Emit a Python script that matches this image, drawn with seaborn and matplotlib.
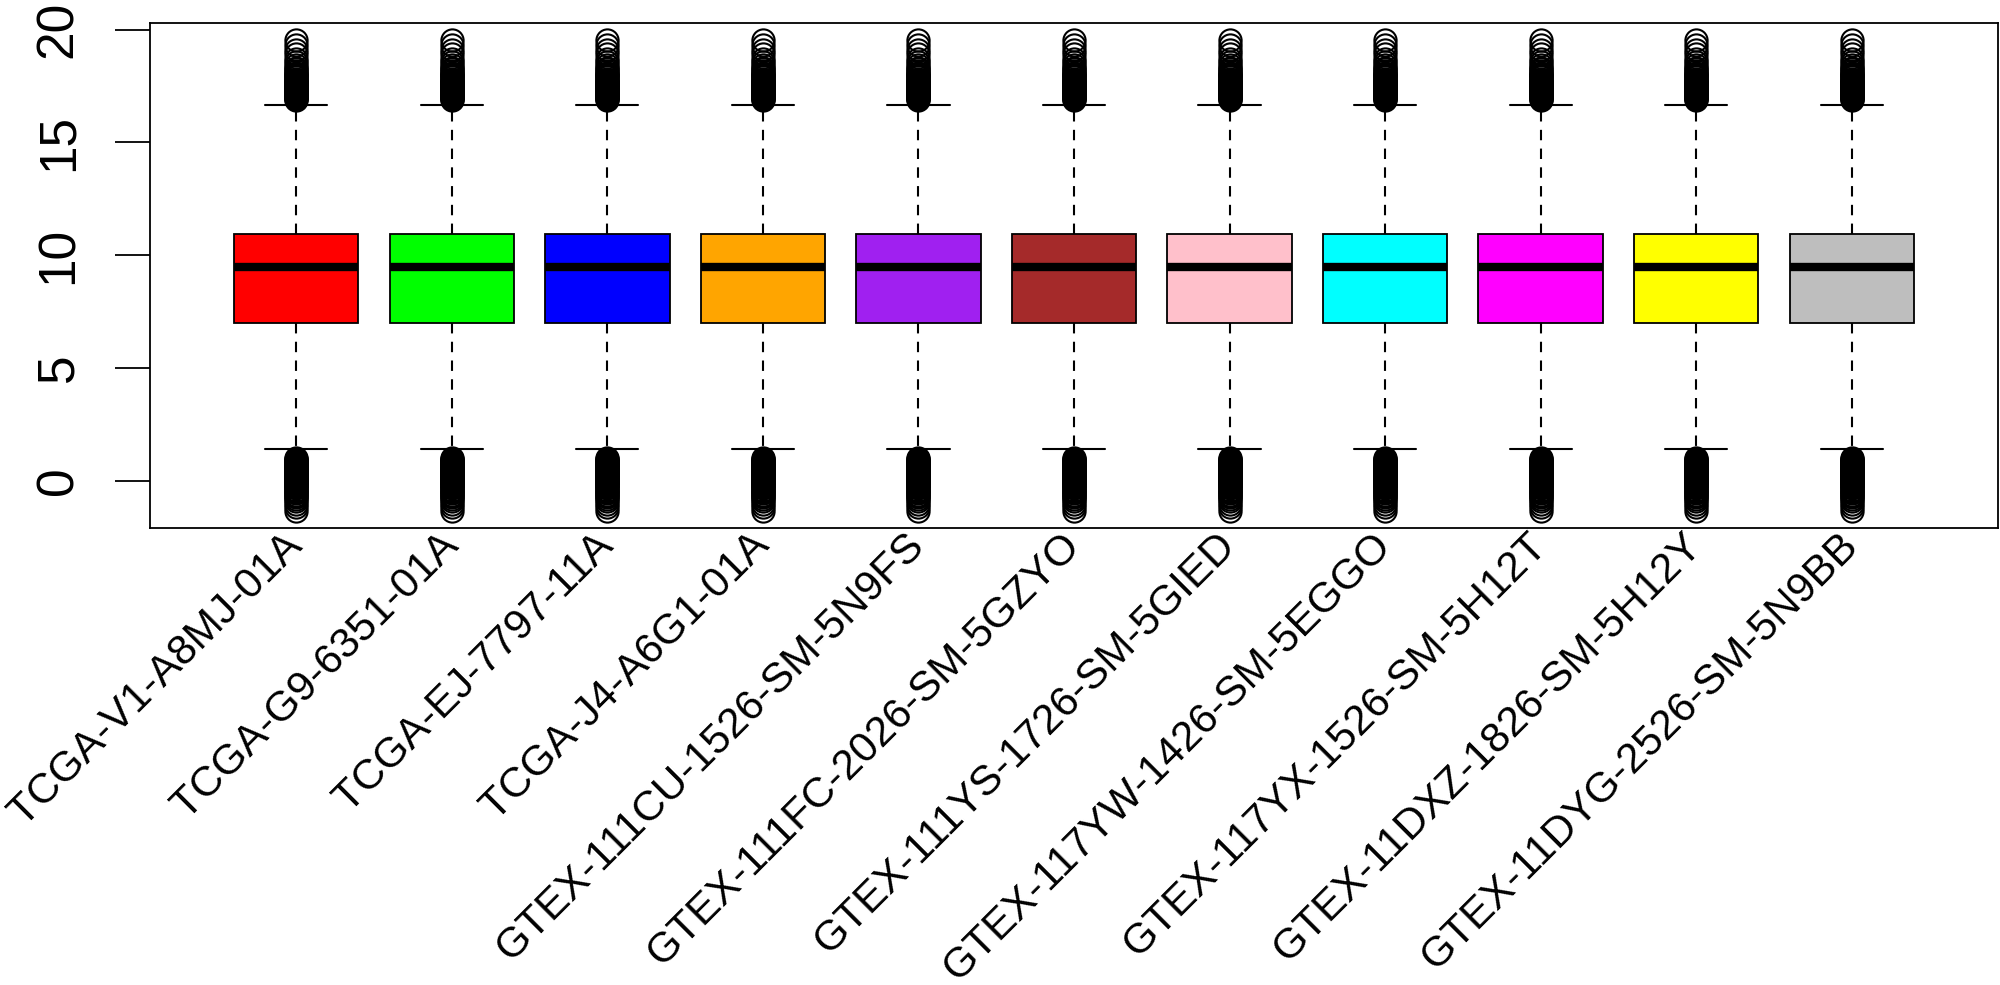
import numpy as np
import pandas as pd
import matplotlib
matplotlib.use("Agg")
import matplotlib.pyplot as plt
import seaborn as sns

# sample names (x axis)
samples = ["TCGA-V1-A8MJ-01A", "TCGA-G9-6351-01A", "TCGA-EJ-7797-11A",
           "TCGA-J4-A6G1-01A", "GTEX-111CU-1526-SM-5N9FS",
           "GTEX-111FC-2026-SM-5GZYO", "GTEX-111YS-1726-SM-5GIED",
           "GTEX-117YW-1426-SM-5EGGO", "GTEX-117YX-1526-SM-5H12T",
           "GTEX-11DXZ-1826-SM-5H12Y", "GTEX-11DYG-2526-SM-5N9BB"]

box_colors = ["#FF0000", "#00FF00", "#0000FF", "#FFA500", "#A020F0", "#A52A2A",
              "#FFC0CB", "#00FFFF", "#FF00FF", "#FFFF00", "#BEBEBE"]

# box statistics (same for every sample)
q1 = [7.0, 7.0, 7.0, 7.0, 7.0, 7.0, 7.0, 7.0, 7.0, 7.0, 7.0]
median = [9.5, 9.5, 9.5, 9.5, 9.5, 9.5, 9.5, 9.5, 9.5, 9.5, 9.5]
q3 = [10.95, 10.95, 10.95, 10.95, 10.95, 10.95, 10.95, 10.95, 10.95, 10.95, 10.95]
whisker_lo = [1.4, 1.4, 1.4, 1.4, 1.4, 1.4, 1.4, 1.4, 1.4, 1.4, 1.4]
whisker_hi = [16.65, 16.65, 16.65, 16.65, 16.65, 16.65, 16.65, 16.65, 16.65, 16.65, 16.65]

# outliers (open circles)
upper_outliers = [16.9, 16.93, 16.97, 17.0, 17.04, 17.08, 17.11, 17.15, 17.19, 17.22,
                  17.26, 17.3, 17.34, 17.37, 17.41, 17.45, 17.49, 17.53, 17.57, 17.61,
                  17.65, 17.7, 17.74, 17.78, 17.83, 17.88, 17.93, 17.98, 18.04, 18.1,
                  18.17, 18.24, 18.32, 18.42, 18.55, 18.72, 18.9, 19.1, 19.3, 19.55]
lower_outliers = [1.02, 0.98, 0.94, 0.9, 0.86, 0.82, 0.78, 0.74, 0.7, 0.66, 0.62,
                  0.58, 0.54, 0.5, 0.46, 0.42, 0.38, 0.34, 0.3, 0.26, 0.22, 0.18,
                  0.14, 0.1, 0.06, 0.02, -0.02, -0.06, -0.1, -0.14, -0.18, -0.23,
                  -0.28, -0.33, -0.38, -0.43, -0.48, -0.54, -0.6, -0.66, -0.72,
                  -0.8, -0.9, -1.02, -1.15, -1.33]

# long table for seaborn, built from the stats above
rows = []
for i, s in enumerate(samples):
    vals = (lower_outliers + [whisker_lo[i]] + [q1[i]] * 100 + [median[i]] * 100
            + [q3[i]] * 100 + [whisker_hi[i]] + upper_outliers)
    rows += [(s, v) for v in vals]
df = pd.DataFrame(rows, columns=["sample", "value"])

sns.set_theme(style="ticks")
plt.rcParams['font.family'] = ['Liberation Sans', 'DejaVu Sans']

fig = plt.figure(figsize=(20, 9.85), dpi=100)
ax = fig.add_axes([0.075, 0.464, 0.924, 0.513])

sns.boxplot(data=df, x="sample", y="value", hue="sample", order=samples,
            hue_order=samples, palette=box_colors, saturation=1, width=0.8,
            linecolor="black", linewidth=1.3, whis=1.5, legend=False, ax=ax,
            medianprops=dict(linewidth=6, color="black"),
            whiskerprops=dict(linestyle=(0, (5, 4)), linewidth=1.5),
            capprops=dict(linewidth=1.5),
            flierprops=dict(marker="o", markersize=16, markerfacecolor="none",
                            markeredgecolor="black", markeredgewidth=1.5))

ax.set_xlim(-0.94, 10.94)
ax.set_ylim(-2.08, 20.31)
ax.set_yticks([0, 5, 10, 15, 20])
ax.set_yticklabels(["0", "5", "10", "15", "20"], rotation=90, va="center")
ax.tick_params(axis="y", length=25, width=1.3, pad=23, labelsize=37, colors="black")
ax.set_xticks(range(len(samples)))
ax.set_xticklabels(samples, rotation=45, ha="right", va="center",
                   rotation_mode="anchor", fontsize=30.5)
ax.tick_params(axis="x", length=0, pad=8, colors="black")
ax.set_xlabel("")
ax.set_ylabel("")
for sp in ax.spines.values():
    sp.set_visible(True)
    sp.set_color("black")
    sp.set_linewidth(1.3)

fig.savefig("out.png", dpi=100)
